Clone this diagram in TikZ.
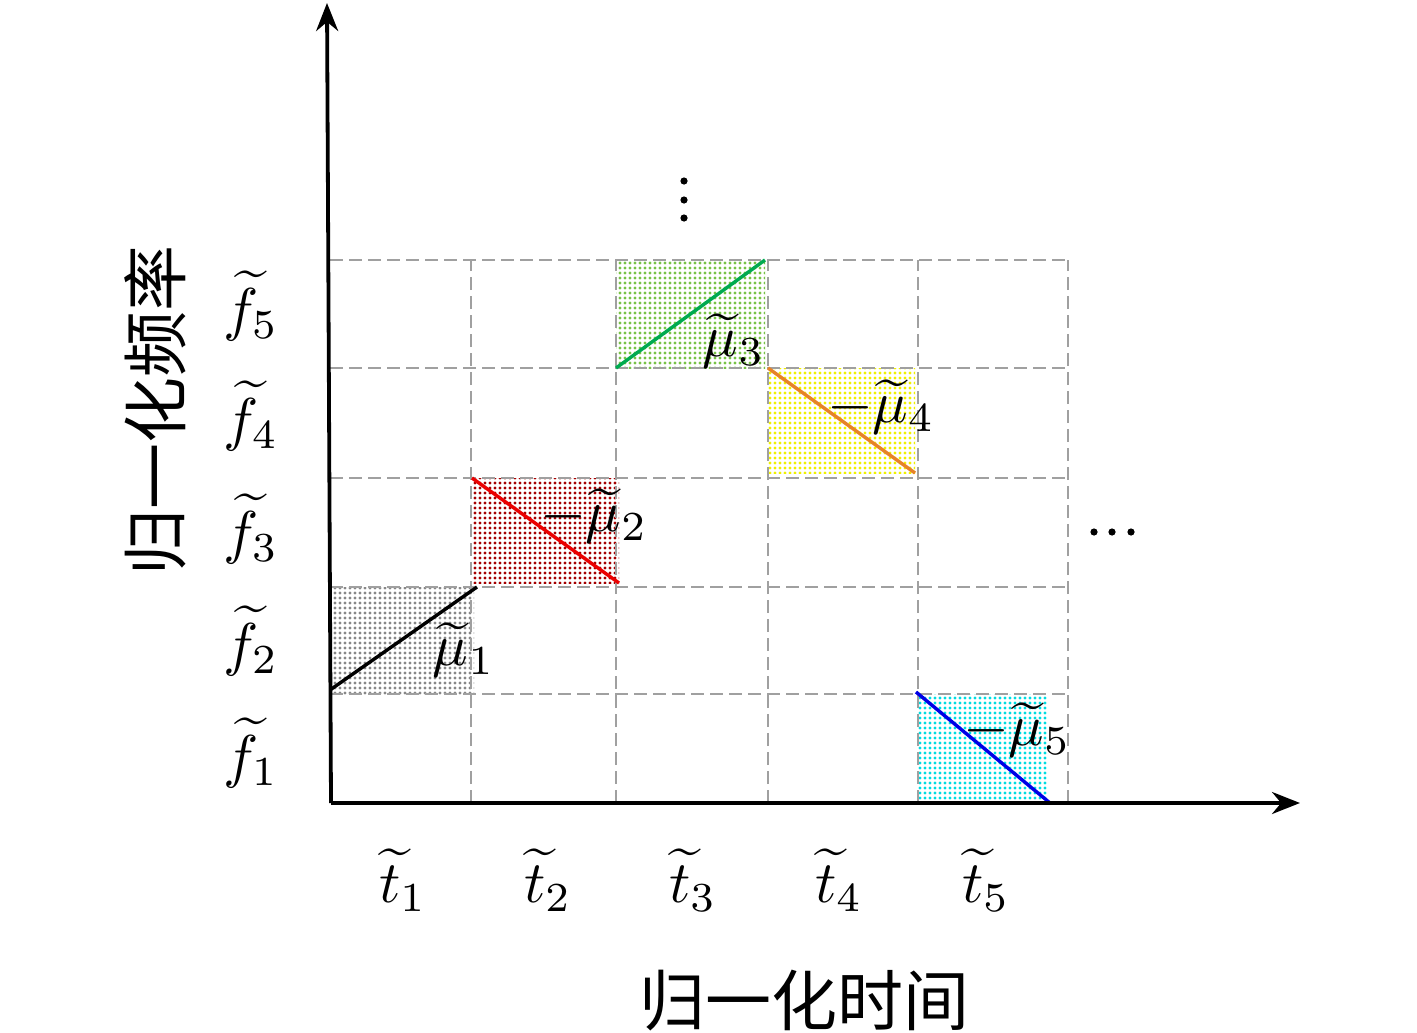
\documentclass[tikz,border=0pt]{standalone}
\usepackage{fontspec}
\newfontfamily\cjk{Noto Sans CJK SC}
\usetikzlibrary{arrows.meta,patterns.meta}
\definecolor{dgray}{RGB}{135,135,135}
\definecolor{dred}{RGB}{165,0,0}
\definecolor{dgreen}{RGB}{120,195,70}
\definecolor{dyellow}{RGB}{240,240,0}
\definecolor{dcyan}{RGB}{0,220,225}
\definecolor{lred}{RGB}{235,0,0}
\definecolor{lgreen}{RGB}{0,170,80}
\definecolor{lorange}{RGB}{230,130,40}
\definecolor{lblue}{RGB}{0,0,230}
\definecolor{gridc}{RGB}{160,160,160}
\begin{document}
\begin{tikzpicture}[x=1pt,y=-1pt,
  gridline/.style={draw=gridc,line width=2pt,dash pattern=on 13pt off 6pt},
  dotfill/.style={pattern={Dots[distance=5pt,radius=1.7pt]},pattern color=#1},
  slope/.style={draw=#1,line width=3.4pt},
  axis/.style={draw=black,line width=3.8pt,-{Stealth[length=28pt,width=22pt]}},
  lab/.style={font=\normalsize,scale=5.9,inner sep=0pt},
  cn/.style={font=\fontsize{66}{72}\selectfont\cjk,inner sep=0pt},
  dotc/.style={fill=black}]
\useasboundingbox (0,0) rectangle (1417,1033);
% shaded cells
\fill[dotfill=dgray] (330,587) rectangle (474,694);
\fill[dotfill=dred] (472,478) rectangle (619,583);
\fill[dotfill=dgreen] (616,260) rectangle (765,368);
\fill[dotfill=dyellow] (767,368) rectangle (915,473);
\fill[dotfill=dcyan] (918,694) rectangle (1048,803);
% grid
\foreach \x in {471,616,768,918,1068} \draw[gridline] (\x,803) -- (\x,260);
\foreach \y in {694,587,478,368,260} \draw[gridline] (330,\y) -- (1068,\y);
% slope lines
\coordinate (a1) at (330,690); \coordinate (b1) at (477,587);
\coordinate (a2) at (472,478); \coordinate (b2) at (619,583);
\coordinate (a3) at (616,368); \coordinate (b3) at (765,260);
\coordinate (a4) at (768,368); \coordinate (b4) at (915,473);
\coordinate (a5) at (916,692); \coordinate (b5) at (1050,803);
\draw[slope=black] (a1) -- (b1);
\draw[slope=lred] (a2) -- (b2);
\draw[slope=lgreen] (a3) -- (b3);
\draw[slope=lorange] (a4) -- (b4);
\draw[slope=lblue] (a5) -- (b5);
% axes
\coordinate (o) at (331,803);
\coordinate (ytop) at (327,3);
\coordinate (xend) at (1300,803);
\draw[axis] (o) -- (ytop);
\draw[axis] (o) -- (xend);
% frequency labels
\node[lab] (f5) at (251,306) {$\widetilde{f}_5$};
\node[lab] (f4) at (251,416) {$\widetilde{f}_4$};
\node[lab] (f3) at (251,529) {$\widetilde{f}_3$};
\node[lab] (f2) at (251,641) {$\widetilde{f}_2$};
\node[lab] (f1) at (251,753) {$\widetilde{f}_1$};
% time labels
\node[lab] (t1) at (403,880) {$\widetilde{t}_1$};
\node[lab] (t2) at (548,880) {$\widetilde{t}_2$};
\node[lab] (t3) at (693,880) {$\widetilde{t}_3$};
\node[lab] (t4) at (839,880) {$\widetilde{t}_4$};
\node[lab] (t5) at (986,880) {$\widetilde{t}_5$};
% slope labels
\node[lab] (m1) at (464,650) {$\widetilde{\mu}_1$};
\node[lab] (m2) at (594,516) {$-\widetilde{\mu}_2$};
\node[lab] (m3) at (734,341) {$\widetilde{\mu}_3$};
\node[lab] (m4) at (881,407) {$-\widetilde{\mu}_4$};
\node[lab] (m5) at (1017,730) {$-\widetilde{\mu}_5$};
% ellipses
\foreach \y in {181,200,218} \fill[dotc] (684,\y) circle (3.6pt);
\foreach \x in {1094,1112,1131} \fill[dotc] (\x,532) circle (3.6pt);
% axis titles
\node[cn] (xl) at (804,1001) {归一化时间};
\node[cn,rotate=90] (yl) at (155,410) {归一化频率};
\end{tikzpicture}
\end{document}
